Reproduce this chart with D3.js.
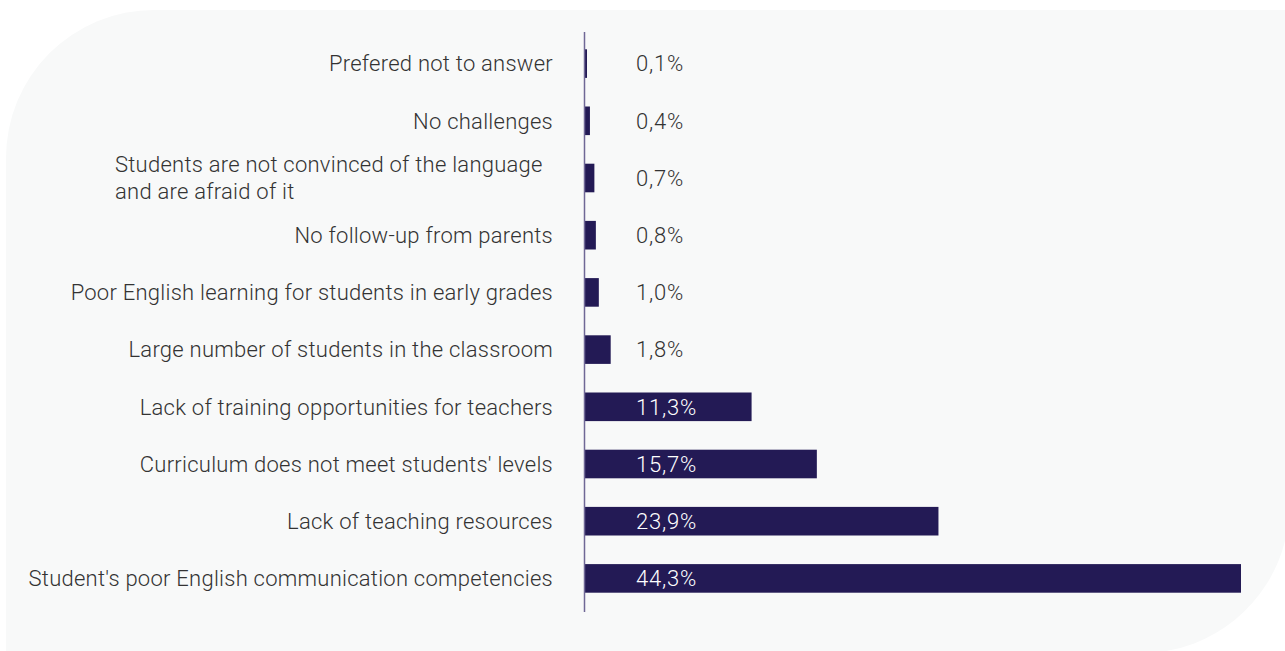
<!DOCTYPE html>
<html>
<head>
<meta charset="utf-8">
<script src="https://cdn.jsdelivr.net/npm/d3@7"></script>
<style>
	body { margin: 0; background: #ffffff; }
	svg { display: block; font-family: Roboto, "Noto Sans", sans-serif; font-weight: 300; }
</style>
</head>
<body>
<svg id="chart" width="1285" height="651"></svg>
<script>

// categories, top to bottom
const categories = [
	["Prefered not to answer"],
	["No challenges"],
	["Students are not convinced of the language", "and are afraid of it"],
	["No follow-up from parents"],
	["Poor English learning for students in early grades"],
	["Large number of students in the classroom"],
	["Lack of training opportunities for teachers"],
	["Curriculum does not meet students' levels"],
	["Lack of teaching resources"],
	["Student's poor English communication competencies"]
];
const values = [0.1, 0.4, 0.7, 0.8, 1.0, 1.8, 11.3, 15.7, 23.9, 44.3];
const valueLabels = ["0,1%", "0,4%", "0,7%", "0,8%", "1,0%", "1,8%", "11,3%", "15,7%", "23,9%", "44,3%"];

const svg = d3.select('#chart');
const W = 1285, H = 651;

// background card with two rounded corners (top-left, bottom-right)
const r = 148, bx = 6, by = 10;
svg.append('path')
	.attr('d', `M${bx},${by + r} A${r},${r} 0 0 1 ${bx + r},${by} L${W},${by} L${W},${H - 110} ` +
		`A${r},${r} 0 0 1 ${W - r + 10},${H + 2} L${bx},${H + 2} Z`)
	.attr('fill', '#f8f9f9');

const x0 = 584;
const x = d3.scaleLinear()
	.domain([0, 44.3])
	.range([x0, 1241]);

const idx = d3.range(categories.length);
const y = d3.scaleBand()
	.domain(idx)
	.range([35, 607])
	.paddingInner(0.5)
	.paddingOuter(0.25);

// bars
svg.append('g')
	.selectAll('rect')
	.data(idx)
	.enter()
	.append('rect')
		.attr('x', x0)
		.attr('y', i => y(i))
		.attr('width', i => Math.max(3, x(values[i]) - x0))
		.attr('height', y.bandwidth())
		.attr('fill', '#231a55');

// axis line
svg.append('line')
	.attr('x1', x0 + 0.5).attr('x2', x0 + 0.5)
	.attr('y1', 32).attr('y2', 612)
	.attr('stroke', '#6f6896')
	.attr('stroke-width', 1.5);

// category labels
const labels = svg.append('g')
	.selectAll('text')
	.data(idx)
	.enter()
	.append('text')
		.attr('text-anchor', 'end')
		.attr('font-size', 22)
		.attr('letter-spacing', 0.25)
		.attr('fill', '#333333')
		.attr('x', 553)
		.attr('y', i => y(i) + y.bandwidth() / 2 - (categories[i].length - 1) * 13.5);

labels.each(function(i) {
	const t = d3.select(this);
	if (categories[i].length > 1) t.attr('text-anchor', 'start').attr('x', 115);
	categories[i].forEach((line, k) => {
		t.append('tspan')
			.attr('x', t.attr('x'))
			.attr('dy', k === 0 ? '0.35em' : 27)
			.text(line);
	});
});

// value labels
svg.append('g')
	.selectAll('text')
	.data(idx)
	.enter()
	.append('text')
		.attr('x', 636)
		.attr('y', i => y(i) + y.bandwidth() / 2)
		.attr('dy', '0.35em')
		.attr('font-size', 22)
		.attr('letter-spacing', 0.8)
		.attr('fill', i => values[i] > 5 ? '#ffffff' : '#333333')
		.text(i => valueLabels[i]);

</script>
</body>
</html>
